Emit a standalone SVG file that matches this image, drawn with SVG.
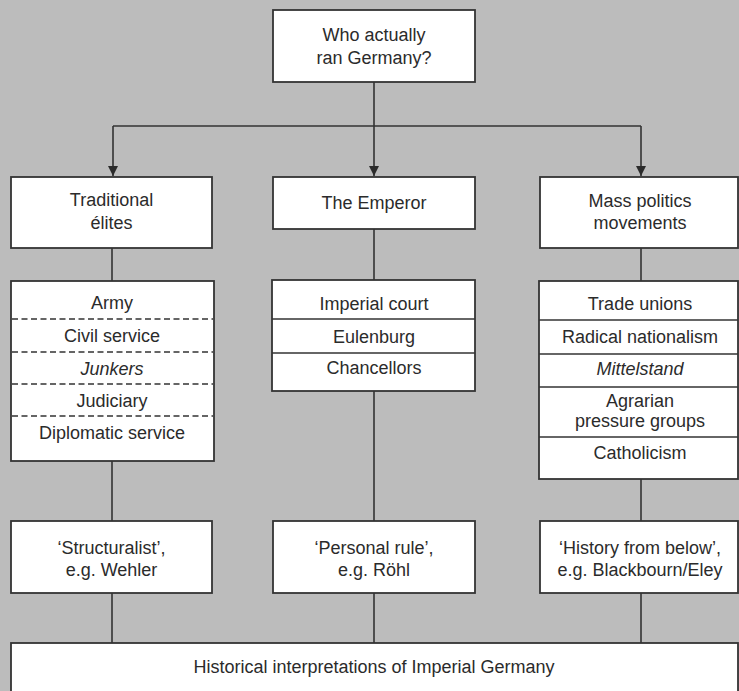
<svg xmlns="http://www.w3.org/2000/svg" width="739" height="691" viewBox="0 0 739 691">
  <defs>
    <style>
      .bg { fill: #bcbcbc; }
      .box { fill: #ffffff; stroke: #333333; stroke-width: 1.8; }
      .sep { stroke: #333333; stroke-width: 1.4; fill: none; }
      .dash { stroke: #333333; stroke-width: 1.4; stroke-dasharray: 6 3.5; fill: none; }
      .conn { stroke: #333333; stroke-width: 1.6; fill: none; }
      text { font-family: "Liberation Sans", Arial, Helvetica, sans-serif; font-size: 18px; fill: #2b2b2b; text-anchor: middle; }
      .it { font-style: italic; }
    </style>
    <marker id="arrow" viewBox="0 0 10 10" refX="10" refY="5" markerWidth="10" markerHeight="10" markerUnits="userSpaceOnUse" orient="auto">
      <path d="M0,0 L10,5 L0,10 Z" fill="#2b2b2b"/>
    </marker>
  </defs>

  <rect class="bg" x="0" y="0" width="739" height="691"/>

  <!-- connectors -->
  <g id="connectors">
    <path class="conn" d="M374,82 V126 M113,126 H641"/>
    <path class="conn" d="M113,126 V176" marker-end="url(#arrow)"/>
    <path class="conn" d="M374,126 V176" marker-end="url(#arrow)"/>
    <path class="conn" d="M641,126 V176" marker-end="url(#arrow)"/>
    <path class="conn" d="M112,248 V281 M374,229 V280 M641,248 V281"/>
    <path class="conn" d="M112,461 V521 M374,391 V521 M641,479 V521"/>
    <path class="conn" d="M112,593 V643 M374,593 V643 M641,593 V643"/>
  </g>

  <!-- question -->
  <g id="question">
    <rect class="box" x="273" y="10" width="202" height="72"/>
    <text x="374" y="41">Who actually</text>
    <text x="374" y="64">ran Germany?</text>
  </g>

  <!-- second row -->
  <g id="traditional-elites">
    <rect class="box" x="11" y="177" width="201" height="71"/>
    <text x="111.5" y="206">Traditional</text>
    <text x="111.5" y="229">élites</text>
  </g>
  <g id="emperor">
    <rect class="box" x="273" y="177" width="202" height="52"/>
    <text x="374" y="209">The Emperor</text>
  </g>
  <g id="mass-politics">
    <rect class="box" x="540" y="177" width="198" height="71"/>
    <text x="640" y="207">Mass politics</text>
    <text x="640" y="229">movements</text>
  </g>

  <!-- lists -->
  <g id="elite-groups">
    <rect class="box" x="11" y="281" width="203" height="180"/>
    <line class="dash" x1="12" y1="319" x2="213" y2="319"/>
    <line class="dash" x1="12" y1="352" x2="213" y2="352"/>
    <line class="dash" x1="12" y1="384" x2="213" y2="384"/>
    <line class="dash" x1="12" y1="416" x2="213" y2="416"/>
    <text x="112" y="309">Army</text>
    <text x="112" y="342">Civil service</text>
    <text class="it" x="112" y="375">Junkers</text>
    <text x="112" y="407">Judiciary</text>
    <text x="112" y="439">Diplomatic service</text>
  </g>
  <g id="emperor-circle">
    <rect class="box" x="272" y="280" width="203" height="111"/>
    <line class="sep" x1="272" y1="319" x2="475" y2="319"/>
    <line class="sep" x1="272" y1="353" x2="475" y2="353"/>
    <text x="374" y="310">Imperial court</text>
    <text x="374" y="343">Eulenburg</text>
    <text x="374" y="374">Chancellors</text>
  </g>
  <g id="mass-groups">
    <rect class="box" x="539" y="281" width="199" height="198"/>
    <line class="sep" x1="539" y1="320" x2="738" y2="320"/>
    <line class="sep" x1="539" y1="354" x2="738" y2="354"/>
    <line class="sep" x1="539" y1="387" x2="738" y2="387"/>
    <line class="sep" x1="539" y1="437" x2="738" y2="437"/>
    <text x="640" y="310">Trade unions</text>
    <text x="640" y="343">Radical nationalism</text>
    <text class="it" x="640" y="375">Mittelstand</text>
    <text x="640" y="407">Agrarian</text>
    <text x="640" y="427">pressure groups</text>
    <text x="640" y="459">Catholicism</text>
  </g>

  <!-- interpretations -->
  <g id="structuralist">
    <rect class="box" x="11" y="521" width="201" height="72"/>
    <text x="111.5" y="554">‘Structuralist’,</text>
    <text x="111.5" y="576">e.g. Wehler</text>
  </g>
  <g id="personal-rule">
    <rect class="box" x="273" y="521" width="202" height="72"/>
    <text x="374" y="554">‘Personal rule’,</text>
    <text x="374" y="576">e.g. Röhl</text>
  </g>
  <g id="history-from-below">
    <rect class="box" x="540" y="521" width="198" height="72"/>
    <text x="640" y="554">‘History from below’,</text>
    <text x="640" y="576">e.g. Blackbourn/Eley</text>
  </g>

  <g id="interpretations">
    <rect class="box" x="11" y="643" width="727" height="60"/>
    <text x="374" y="673">Historical interpretations of Imperial Germany</text>
  </g>
</svg>
